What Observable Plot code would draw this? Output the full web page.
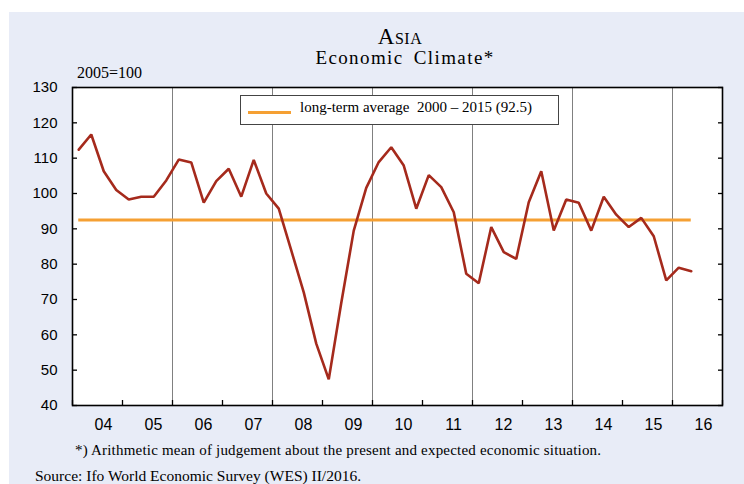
<!DOCTYPE html>
<html><head><meta charset="utf-8">
<script src="https://cdn.jsdelivr.net/npm/d3@7"></script>
<script src="https://cdn.jsdelivr.net/npm/@observablehq/plot@0.6"></script>
<style>
body{margin:0;background:#fff;}
#wrap{position:relative;width:744px;height:484px;overflow:hidden;}
#bg{position:absolute;left:9px;top:12px;right:0;bottom:0;background:#E8ECF7;}
#chart{position:absolute;left:0;top:0;}
.t{position:absolute;white-space:nowrap;font-family:"Liberation Serif",serif;color:#000;}
#legend{position:absolute;left:240px;top:95px;width:317px;height:28px;background:#fff;border:1.5px solid #444;}
#legend .sw{position:absolute;left:7px;top:15px;width:43px;height:3px;}
#legend .lt{position:absolute;left:59px;top:3.5px;font-size:15px;line-height:15px;font-family:"Liberation Serif",serif;white-space:pre;}
</style></head><body>
<div id="wrap"><div id="bg"></div><div id="chart"></div>
<div class="t" style="left:300px;width:200px;text-align:center;top:25px;font-size:23px;line-height:23px;font-variant:small-caps;letter-spacing:0.5px">Asia</div>
<div class="t" style="left:255px;width:300px;text-align:center;top:48px;font-size:19px;line-height:19px;letter-spacing:1.4px;word-spacing:4px">Economic Climate*</div>
<div class="t" style="left:77px;top:65px;font-size:16px;line-height:16px">2005=100</div>
<div id="legend"><div class="sw"></div><div class="lt"></div></div>
<div class="t" style="left:75px;top:443px;font-size:15px;line-height:15px;letter-spacing:0.2px">*) Arithmetic mean of judgement about the present and expected economic situation.</div>
<div class="t" style="left:35px;top:468px;font-size:15.5px;line-height:15.5px">Source: Ifo World Economic Survey (WES) II/2016.</div>
</div>
<script>
const startYear = 2004;
const values = [112.4,116.7,106.3,101,98.3,99.1,99.1,103.7,109.6,108.8,97.4,103.5,107,99.1,109.5,100,95.7,83.9,72,57.5,47.4,69,89.5,101.6,108.9,113.1,107.9,95.7,105.2,101.8,94.7,77.3,74.6,90.5,83.4,81.5,97.5,106.3,89.5,98.3,97.4,89.5,99.1,94,90.5,93.1,87.9,75.4,79,78];
const average = 92.5;
const averageLabel = "long-term average  2000 – 2015 (92.5)";
const yearTicks = [2004,2005,2006,2007,2008,2009,2010,2011,2012,2013,2014,2015,2016,2017];
const gridYears = [2006,2008,2010,2012,2014,2016];
const xLabels = ["04","05","06","07","08","09","10","11","12","13","14","15","16"];
const yTicks = [40,50,60,70,80,90,100,110,120,130];

const red = "#A52A1C", orange = "#F5A033";
const data = values.map((v, i) => ({t: startYear + (i + 0.5) / 4, v}));
const labelPos = xLabels.map((s, i) => yearTicks[i] + 0.5);

document.querySelector("#legend .sw").style.background = orange;
document.querySelector("#legend .lt").textContent = averageLabel;

const chart = Plot.plot({
  width: 744, height: 484,
  marginTop: 87, marginBottom: 79, marginLeft: 72, marginRight: 22,
  style: {background: "transparent", fontFamily: "Liberation Sans, Arial, sans-serif", fontSize: "15px", color: "black"},
  x: {domain: [yearTicks[0], yearTicks[yearTicks.length - 1]], label: null},
  y: {domain: [yTicks[0], yTicks[yTicks.length - 1]], label: null},
  marks: [
    Plot.frame({fill: "white"}),
    Plot.ruleX(gridYears, {stroke: "#808080", strokeWidth: 1}),
    Plot.ruleY([average], {x1: data[0].t, x2: data[data.length - 1].t, stroke: orange, strokeWidth: 3}),
    Plot.line(data, {x: "t", y: "v", stroke: red, strokeWidth: 2.6, strokeLinejoin: "miter"}),
    Plot.axisY(yTicks, {anchor: "left", label: null, tickSize: 0, tickPadding: 15, fontSize: 15}),
    Plot.axisY(yTicks, {anchor: "left", label: null, tickSize: -5, tickFormat: () => "", strokeWidth: 1.3}),
    Plot.axisY(yTicks, {anchor: "right", label: null, tickSize: -5, tickFormat: () => "", strokeWidth: 1.3}),
    Plot.axisX(yearTicks, {anchor: "bottom", label: null, tickSize: -5, tickFormat: () => "", strokeWidth: 1.3}),
    Plot.axisX(labelPos, {anchor: "bottom", label: null, tickSize: 0, tickPadding: 13, dx: 6, fontSize: 16, tickFormat: d => xLabels[labelPos.indexOf(d)]}),
    Plot.frame({stroke: "black", strokeWidth: 1.6})
  ]
});
document.getElementById("chart").appendChild(chart);
</script>
</body></html>
